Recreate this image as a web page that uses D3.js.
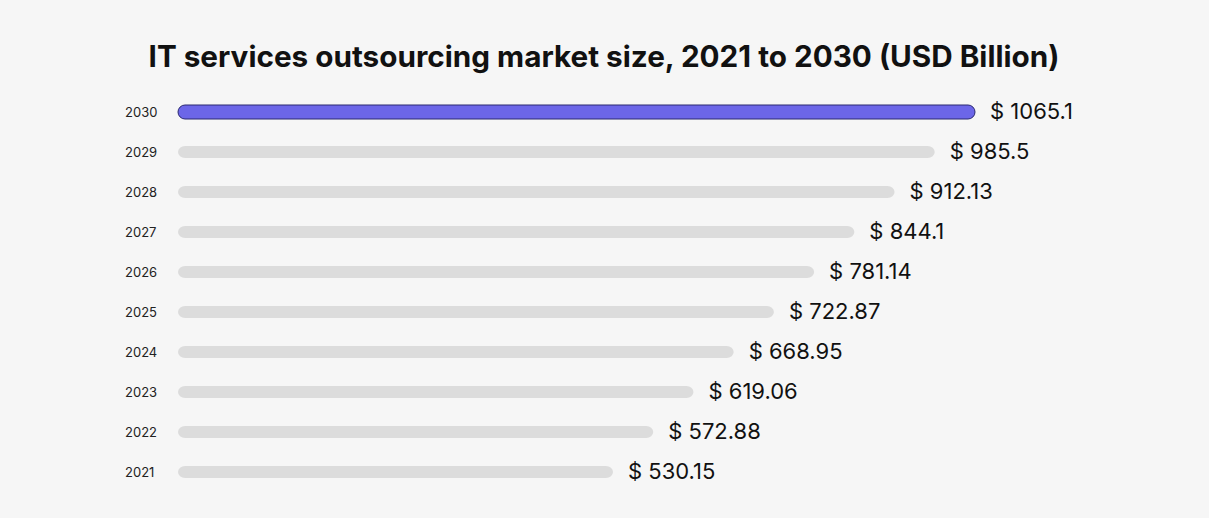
<!DOCTYPE html>
<html>
<head>
<meta charset="utf-8">
<script src="https://cdn.jsdelivr.net/npm/d3@7"></script>
<style>
  body { margin: 0; background: #f6f6f6; }
  svg { display: block; font-family: Inter, "Noto Sans", sans-serif; }
</style>
</head>
<body>
<svg id="chart" width="1209" height="518"></svg>
<script>
const years = ['2030', '2029', '2028', '2027', '2026', '2025', '2024', '2023', '2022', '2021'];
const values = [1065.1, 985.5, 912.13, 844.1, 781.14, 722.87, 668.95, 619.06, 572.88, 530.15];
const valueLabels = ['$ 1065.1', '$ 985.5', '$ 912.13', '$ 844.1', '$ 781.14', '$ 722.87', '$ 668.95', '$ 619.06', '$ 572.88', '$ 530.15'];

const svg = d3.select('#chart');
const barStart = 178;

svg.append('rect').attr('width', 1209).attr('height', 518).attr('fill', '#f6f6f6');

svg.append('text')
    .attr('x', 604).attr('y', 67)
    .attr('text-anchor', 'middle')
    .attr('font-size', 29.7).attr('font-weight', 700)
    .attr('fill', '#111')
    .text('IT services outsourcing market size, 2021 to 2030 (USD Billion)');

// designer spaced bars evenly, which matches a log scale
const x = d3.scaleLog()
    .domain([d3.min(values), d3.max(values)])
    .range([613, 975]);

const y = d3.scaleBand()
    .domain(years)
    .range([92, 492])
    .padding(0);

const rows = svg.selectAll('g.row')
    .data(years.map((yr, i) => ({ yr, v: values[i], label: valueLabels[i], i })))
    .enter().append('g')
    .attr('class', 'row')
    .attr('transform', d => `translate(0,${y(d.yr) + y.bandwidth() / 2})`);

rows.append('text')
    .attr('x', 125).attr('y', 5)
    .attr('font-size', 13).attr('fill', '#222')
    .text(d => d.yr);

rows.append('rect')
    .attr('x', barStart)
    .attr('y', d => d.i === 0 ? -7 : -6)
    .attr('height', d => d.i === 0 ? 14 : 12)
    .attr('width', d => x(d.v) - barStart)
    .attr('rx', 7)
    .attr('fill', d => d.i === 0 ? '#6c66e8' : '#dcdcdc')
    .attr('stroke', d => d.i === 0 ? '#2a2870' : 'none')
    .attr('stroke-width', 1);

rows.append('text')
    .attr('x', d => x(d.v) + 15).attr('y', 7)
    .attr('font-size', 22).attr('fill', '#111')
    .text(d => d.label);
</script>
</body>
</html>
